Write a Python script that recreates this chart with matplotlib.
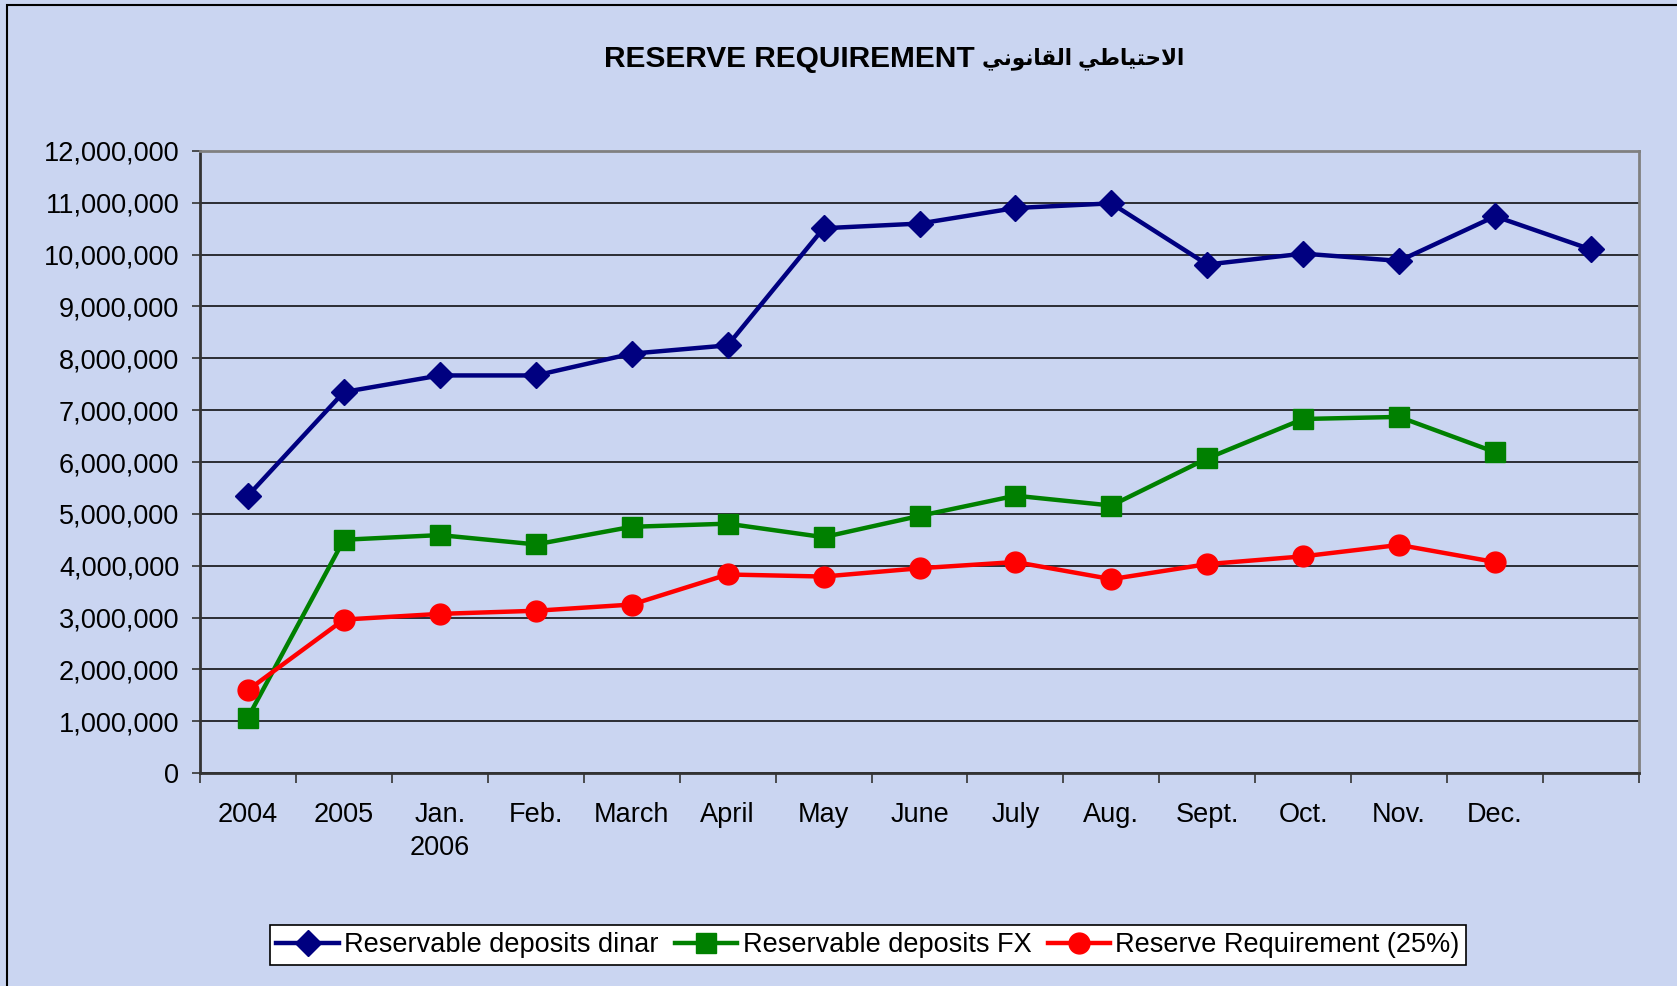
import numpy as np
import matplotlib
matplotlib.use("Agg")
import matplotlib.pyplot as plt
from matplotlib.patches import Rectangle
from matplotlib.ticker import FuncFormatter, FixedLocator

plt.rcParams['font.family'] = ['Liberation Sans', 'DejaVu Sans']

categories = ['2004', '2005', 'Jan.\n2006', 'Feb.', 'March', 'April', 'May', 'June',
              'July', 'Aug.', 'Sept.', 'Oct.', 'Nov.', 'Dec.', '']
deposits_dinar = [5.35e6, 7.35e6, 7.67e6, 7.67e6, 8.09e6, 8.25e6, 10.51e6, 10.60e6,
                  10.90e6, 10.99e6, 9.81e6, 10.02e6, 9.88e6, 10.74e6, 10.10e6]
deposits_fx = [1.07e6, 4.50e6, 4.59e6, 4.41e6, 4.75e6, 4.81e6, 4.55e6, 4.96e6,
               5.35e6, 5.16e6, 6.07e6, 6.83e6, 6.87e6, 6.19e6, np.nan]
reserve_req = [1.60e6, 2.96e6, 3.07e6, 3.13e6, 3.25e6, 3.83e6, 3.79e6, 3.95e6,
               4.07e6, 3.74e6, 4.03e6, 4.18e6, 4.40e6, 4.07e6, np.nan]

# arabic part written in presentation forms, visual order (no shaping in mpl)
title_en = "RESERVE REQUIREMENT"
title_ar = "\ufef2\ufee7\ufeee\ufee7\ufe8e\ufed8\ufedf\ufe8d \ufef2\ufec3\ufe8e\ufef4\ufe98\ufea3\ufefb\ufe8d"

bg = '#cad5f1'
fig = plt.figure(figsize=(16.77, 9.86), dpi=100, facecolor=bg)
ax = fig.add_axes([200/1677, 1 - 773/986, 1439/1677, 622/986])
ax.set_facecolor(bg)

x = np.arange(len(categories))
ax.plot(x, deposits_dinar, color='#000080', lw=3.2, marker='D', ms=13,
        label='Reservable deposits dinar', zorder=5)
ax.plot(x, deposits_fx, color='#008000', lw=3.2, marker='s', ms=15,
        label='Reservable deposits FX', zorder=4)
ax.plot(x, reserve_req, color='#ff0000', lw=3.2, marker='o', ms=15,
        label='Reserve Requirement (25%)', zorder=4)

ax.set_xlim(-0.5, len(categories) - 0.5)
ax.set_ylim(0, 12e6)
ax.set_yticks(np.arange(0, 12.5e6, 1e6))
ax.yaxis.set_major_formatter(FuncFormatter(lambda v, p: f'{int(v):,}'))
ax.grid(axis='y', color='black', lw=1.1)
ax.set_axisbelow(True)

ax.set_xticks(x)
ax.set_xticklabels(categories, fontsize=19.5, linespacing=1.35)
ax.xaxis.set_minor_locator(FixedLocator(np.arange(-0.5, len(categories), 1)))
ax.tick_params(axis='x', which='major', length=0, pad=21)
ax.tick_params(axis='x', which='minor', length=7, width=1.2, color='#333333')
ax.tick_params(axis='y', length=6, width=1.2, color='#333333', pad=9, labelsize=19.5)

for s in ['left', 'bottom']:
    ax.spines[s].set_color('#333333')
    ax.spines[s].set_linewidth(2)
for s in ['top', 'right']:
    ax.spines[s].set_color('#808080')
    ax.spines[s].set_linewidth(2)

ty = 1 - 59/986
fig.text(975/1677, ty, title_en, ha='right', va='center',
         fontsize=21.5, fontweight='bold')
fig.text(982/1677, ty, title_ar, ha='left', va='center',
         fontsize=15.5, fontweight='bold')

leg = fig.legend(loc='center', bbox_to_anchor=(868/1677, 1 - 945/986), ncol=3,
                 fontsize=19.5, frameon=True, fancybox=False, framealpha=1,
                 edgecolor='black', handlelength=2.3, handletextpad=0.2,
                 columnspacing=0.6, borderpad=0.25)
leg.get_frame().set_linewidth(1.2)

fig.patches.append(Rectangle((7/1677, -0.1), 1.2, 1 - 5/986 + 0.1,
                             transform=fig.transFigure, fill=False,
                             edgecolor='black', lw=1.5))

fig.savefig('out.png', dpi=100, facecolor=bg)
